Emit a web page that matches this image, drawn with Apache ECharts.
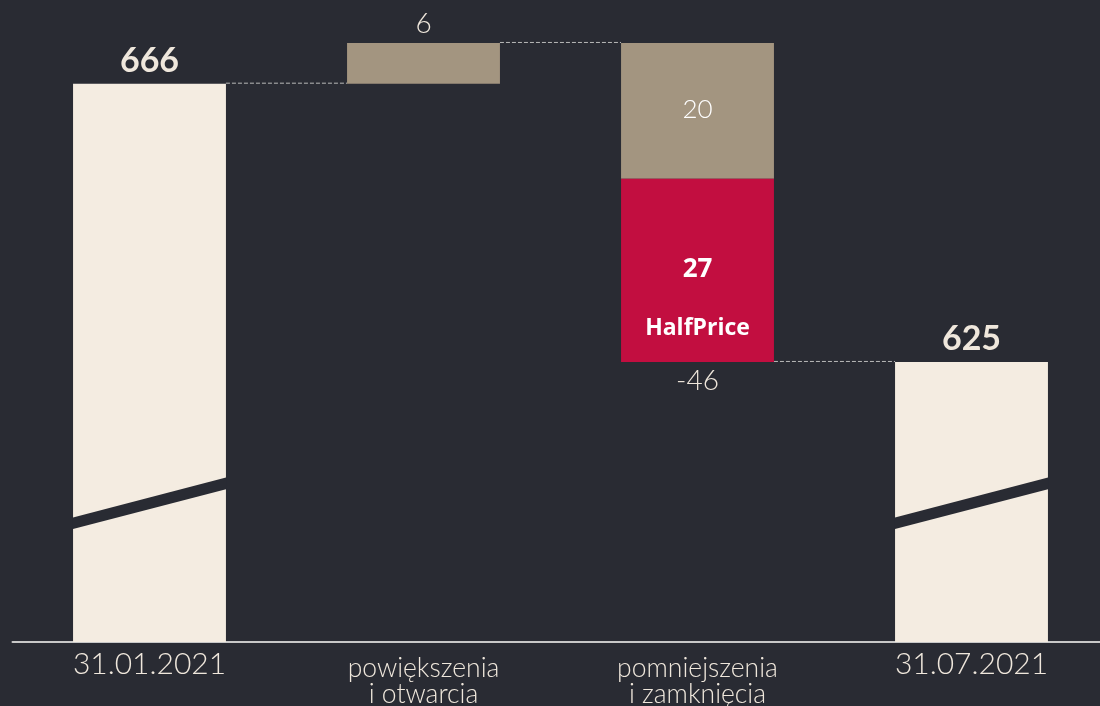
<!DOCTYPE html>
<html><head><meta charset="utf-8">
<script src="https://cdn.jsdelivr.net/npm/echarts@6/dist/echarts.min.js"></script>
<style>html,body{margin:0;padding:0;background:#292b33;overflow:hidden;width:1100px;height:706px;}#c{width:1109px;height:706px;}</style>
</head><body><div id="c"></div>
<script>
// ---- data ----
const categories = ['31.01.2021', 'powiększenia\ni otwarcia', 'pomniejszenia\ni zamknięcia', '31.07.2021'];
const openingStores = 666;     // 31.01.2021
const increaseOther = 6;       // powiększenia i otwarcia
const decreaseOther = 20;      // pomniejszenia i zamknięcia (bez HalfPrice)
const decreaseHalfPrice = 27;  // HalfPrice
const decreaseTotalLabel = -46;
const closingStores = 625;     // 31.07.2021
const halfPriceName = 'HalfPrice';

// ---- styling / layout ----
const Y_MIN = 583.74, Y_MAX = 677.74;
const BAR_RATIO = 0.558;
const BG = '#292b33', CREAM = '#f4ece1', TAUPE = '#a39580', CRIMSON = '#c20e40', TEXT = '#efe7dc';
const FONT = 'Lato, "Noto Sans", sans-serif';
const FONT_B = '"Open Sans", "Noto Sans", sans-serif';

// segments: [categoryIndex, low, high], kinds kept in parallel
const afterIncrease = openingStores + increaseOther;
const afterOther = afterIncrease - decreaseOther;
const segments = [
  [0, Y_MIN, openingStores],
  [1, openingStores, afterIncrease],
  [2, afterOther, afterIncrease],
  [2, afterOther - decreaseHalfPrice, afterOther],
  [3, Y_MIN, closingStores]
];
const segKinds = ['total', 'inc', 'decOther', 'decHP', 'total'];
const segLabels = [String(openingStores), String(increaseOther), String(decreaseOther), String(decreaseHalfPrice), String(closingStores)];

// connectors: [fromCategory, level]
const connectors = [[0, openingStores], [1, afterIncrease], [2, closingStores]];

const chart = echarts.init(document.getElementById('c'), null, {renderer: 'canvas'});

function renderSeg(params, api) {
  const c = api.value(0), lo = api.value(1), hi = api.value(2);
  const kind = segKinds[params.dataIndex];
  const label = segLabels[params.dataIndex];
  const bw = api.size([1, 0])[0] * BAR_RATIO;
  const pHi = api.coord([c, hi]);
  const pLo = api.coord([c, lo]);
  const x0 = pHi[0] - bw / 2, x1 = pHi[0] + bw / 2;
  const cx = pHi[0];
  const children = [];
  const fill = kind === 'total' ? CREAM : (kind === 'decHP' ? CRIMSON : TAUPE);
  children.push({type: 'rect', shape: {x: x0, y: pHi[1], width: bw, height: pLo[1] - pHi[1]}, style: {fill: fill}});
  const midY = (pHi[1] + pLo[1]) / 2;
  if (kind === 'total') {
    // axis-break band
    const a1 = api.coord([c, 600.35])[1], a2 = api.coord([c, 602.05])[1];
    const b1 = api.coord([c, 606.28])[1], b2 = api.coord([c, 608.0])[1];
    children.push({type: 'polygon', shape: {points: [[x0 - 1, a2], [x1 + 1, b2], [x1 + 1, b1], [x0 - 1, a1]]}, style: {fill: BG}});
    children.push({type: 'text', style: {text: label, x: cx, y: pHi[1] - 23, align: 'center', verticalAlign: 'middle', fill: TEXT, font: 'bold 34px ' + FONT}});
  } else if (kind === 'inc') {
    children.push({type: 'text', style: {text: label, x: cx, y: pHi[1] - 19, align: 'center', verticalAlign: 'middle', fill: TEXT, font: '300 28px ' + FONT}});
  } else if (kind === 'decOther') {
    children.push({type: 'text', style: {text: label, x: cx, y: midY - 1, align: 'center', verticalAlign: 'middle', fill: '#ffffff', font: '300 26px ' + FONT}});
  } else if (kind === 'decHP') {
    children.push({type: 'text', style: {text: label, x: cx, y: midY - 1, align: 'center', verticalAlign: 'middle', fill: '#ffffff', font: 'bold 26px ' + FONT_B}});
    children.push({type: 'text', style: {text: halfPriceName, x: cx, y: midY + 58, align: 'center', verticalAlign: 'middle', fill: '#ffffff', font: 'bold 23px ' + FONT_B}});
    children.push({type: 'text', style: {text: String(decreaseTotalLabel), x: cx, y: pLo[1] + 19, align: 'center', verticalAlign: 'middle', fill: TEXT, font: '300 28px ' + FONT}});
  }
  return {type: 'group', children: children};
}

function renderConn(params, api) {
  const c = api.value(0), lvl = api.value(1);
  const bw = api.size([1, 0])[0] * BAR_RATIO;
  const p = api.coord([c, lvl]);
  const q = api.coord([c + 1, lvl]);
  return {type: 'line', shape: {x1: p[0] + bw / 2, y1: p[1] - 0.5, x2: q[0] - bw / 2, y2: q[1] - 0.5},
    style: {stroke: '#b9b9b9', lineWidth: 1, lineDash: [4, 2]}};
}

chart.setOption({
  backgroundColor: BG,
  animation: false,
  grid: {left: 12.5, right: 0.5, top: 4, bottom: 64, containLabel: false, outerBoundsMode: 'none'},
  xAxis: {
    type: 'category', data: categories,
    axisTick: {show: false},
    axisLine: {lineStyle: {color: '#c8c8c8', width: 2}},
    axisLabel: {
      margin: 6, color: TEXT, fontFamily: FONT,
      formatter: function (v) {
        if (v.indexOf('\n') >= 0) return '{sp|}\n' + v.split('\n').map(s => '{w|' + s + '}').join('\n');
        return '{d|' + v + '}';
      },
      rich: {
        sp: {fontSize: 1, lineHeight: 7, height: 7},
        d: {fontSize: 30, lineHeight: 32, fontWeight: 300, color: TEXT, fontFamily: FONT},
        w: {fontSize: 26.5, lineHeight: 26, fontWeight: 300, color: TEXT, fontFamily: FONT}
      }
    }
  },
  yAxis: {type: 'value', min: Y_MIN, max: Y_MAX, show: false, splitLine: {show: false}},
  series: [
    {type: 'custom', data: connectors, renderItem: renderConn, silent: true, z: 1},
    {type: 'custom', data: segments, renderItem: renderSeg, silent: true, z: 2, encode: {x: 0, y: [1, 2]}}
  ]
});
</script>
</body></html>
